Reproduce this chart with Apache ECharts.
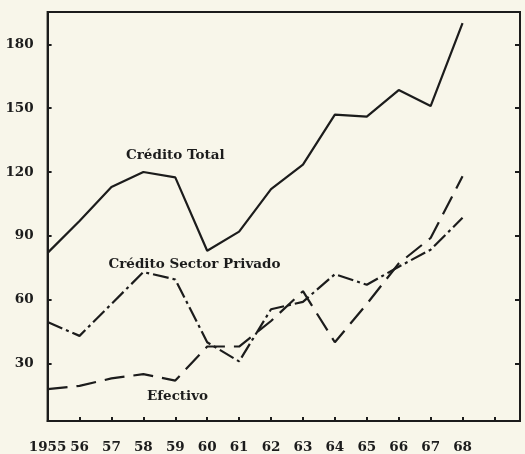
<!DOCTYPE html>
<html>
<head>
<meta charset="utf-8">
<script src="https://cdn.jsdelivr.net/npm/echarts@6/dist/echarts.min.js"></script>
<style>
html, body { margin: 0; padding: 0; background: #f8f6ea; }
#chart { width: 525px; height: 454px; }
</style>
</head>
<body>
<div id="chart"></div>
<script>
// años (eje x)
var years = [1955, 1956, 1957, 1958, 1959, 1960, 1961, 1962, 1963, 1964, 1965, 1966, 1967, 1968];
var creditoTotal = [82, 97, 113, 120, 117.5, 83, 92, 112, 123.5, 147, 146, 158.5, 151, 190];
var creditoPrivado = [49.5, 43, 58, 73, 69.5, 40, 31, 55.5, 59, 72, 67, 75.5, 83.5, 98.5];
var efectivo = [18, 19.5, 23, 25, 22, 38, 38, 50, 64, 40, 58, 77, 89, 118];
var yTicks = [30, 60, 90, 120, 150, 180];

var ink = "#1c1c1c";
var font = "'DejaVu Serif', 'Liberation Serif', serif";

function pairs(vals) {
  return years.map(function (y, i) { return [y, vals[i]]; });
}

// rótulo de cada serie, colocado en coordenadas de datos
function note(text, x, y) {
  return {
    symbol: "circle",
    symbolSize: 1,
    silent: true,
    itemStyle: { color: "rgba(0,0,0,0)" },
    data: [{ coord: [x, y], value: text }],
    label: {
      show: true,
      position: "inside",
      formatter: text,
      color: ink,
      fontFamily: font,
      fontWeight: "bold",
      fontSize: 13.5
    }
  };
}

var chart = echarts.init(document.getElementById("chart"));
chart.setOption({
  backgroundColor: "#f8f6ea",
  animation: false,
  grid: {
    left: 47.6,
    right: 5,
    top: 12,
    bottom: 31,
    show: true,
    borderColor: ink,
    borderWidth: 2,
    backgroundColor: "transparent"
  },
  xAxis: {
    type: "value",
    min: 1955,
    max: 1969.8,
    interval: 1,
    axisLine: { show: true, lineStyle: { color: ink, width: 2 } },
    axisTick: { show: true, inside: true, length: 4, lineStyle: { color: ink, width: 2 } },
    splitLine: { show: false },
    axisLabel: {
      color: ink,
      fontFamily: font,
      fontWeight: "bold",
      fontSize: 13.5,
      margin: 19,
      showMaxLabel: false,
      formatter: function (v) {
        if (v === 1955) return "1955";
        if (v > 1968) return "";
        return String(v % 100);
      }
    }
  },
  yAxis: [
    {
      type: "value",
      min: 3,
      max: 195.2,
      axisLine: { show: true, lineStyle: { color: ink, width: 2 } },
      axisTick: { show: true, inside: true, length: 4, customValues: yTicks, lineStyle: { color: ink, width: 2 } },
      splitLine: { show: false },
      axisLabel: {
        customValues: yTicks,
        color: ink,
        fontFamily: font,
        fontWeight: "bold",
        fontSize: 13.5,
        margin: 14
      }
    },
    {
      type: "value",
      position: "right",
      min: 3,
      max: 195.2,
      axisLine: { show: true, lineStyle: { color: ink, width: 2 } },
      axisTick: { show: true, inside: true, length: 5, customValues: yTicks, lineStyle: { color: ink, width: 2 } },
      splitLine: { show: false },
      axisLabel: { show: false }
    }
  ],
  series: [
    {
      name: "Crédito Total",
      type: "line",
      data: pairs(creditoTotal),
      symbol: "none",
      lineStyle: { color: ink, width: 2.2, type: "solid" },
      markPoint: note("Crédito Total", 1959.0, 128)
    },
    {
      name: "Crédito Sector Privado",
      type: "line",
      data: pairs(creditoPrivado),
      symbol: "none",
      lineStyle: { color: ink, width: 2.2, type: [16, 4, 3, 4] },
      markPoint: note("Crédito Sector Privado", 1959.6, 76.5)
    },
    {
      name: "Efectivo",
      type: "line",
      data: pairs(efectivo),
      symbol: "none",
      lineStyle: { color: ink, width: 2.2, type: [20, 9] },
      markPoint: note("Efectivo", 1959.07, 14.5)
    }
  ]
});
</script>
</body>
</html>
